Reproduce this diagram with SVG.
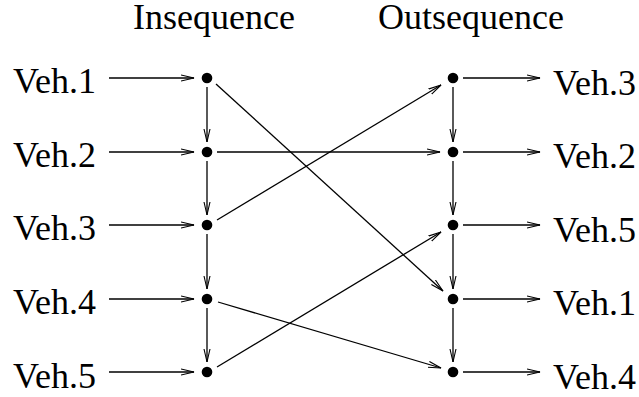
<svg xmlns="http://www.w3.org/2000/svg" width="639" height="397" viewBox="0 0 639 397">
<defs>
<marker id="ah" markerUnits="userSpaceOnUse" markerWidth="16" markerHeight="10" refX="13" refY="4" orient="auto">
<path d="M0,1 L13,4 L0,7" fill="none" stroke="#000" stroke-width="1.1"/>
</marker>
<style>
text{font-family:"Liberation Serif","Times New Roman",serif;font-size:36px;fill:#000}
.c line{stroke:#000;stroke-width:1.3;marker-end:url(#ah)}
.d{fill:#000}
</style>
</defs>
<rect width="639" height="397" fill="#fff"/>
<g id="titles">
<text x="214" y="29" text-anchor="middle">Insequence</text>
<text x="471" y="29" text-anchor="middle">Outsequence</text>
</g>
<g id="in-labels">
<text x="96" y="93" text-anchor="end">Veh.1</text>
<text x="96" y="167" text-anchor="end">Veh.2</text>
<text x="96" y="240" text-anchor="end">Veh.3</text>
<text x="96" y="314" text-anchor="end">Veh.4</text>
<text x="96" y="388" text-anchor="end">Veh.5</text>
</g>
<g id="out-labels">
<text x="553" y="95">Veh.3</text>
<text x="553" y="168">Veh.2</text>
<text x="553" y="242">Veh.5</text>
<text x="553" y="315">Veh.1</text>
<text x="553" y="389">Veh.4</text>
</g>
<g id="in-nodes">
<circle id="L1" class="d" cx="207" cy="78" r="5.3"/>
<circle id="L2" class="d" cx="207" cy="152" r="5.3"/>
<circle id="L3" class="d" cx="207" cy="225" r="5.3"/>
<circle id="L4" class="d" cx="207" cy="299" r="5.3"/>
<circle id="L5" class="d" cx="207" cy="372" r="5.3"/>
</g>
<g id="out-nodes">
<circle id="R1" class="d" cx="453" cy="78" r="5.3"/>
<circle id="R2" class="d" cx="453" cy="152" r="5.3"/>
<circle id="R3" class="d" cx="453" cy="225" r="5.3"/>
<circle id="R4" class="d" cx="453" cy="299" r="5.3"/>
<circle id="R5" class="d" cx="453" cy="372" r="5.3"/>
</g>
<g id="connectors" class="c">
<line x1="109" y1="78" x2="194" y2="78"/>
<line x1="109" y1="152" x2="194" y2="152"/>
<line x1="109" y1="225" x2="194" y2="225"/>
<line x1="109" y1="299" x2="194" y2="299"/>
<line x1="109" y1="372" x2="194" y2="372"/>
<line x1="463" y1="78" x2="540" y2="78"/>
<line x1="463" y1="152" x2="540" y2="152"/>
<line x1="463" y1="225" x2="540" y2="225"/>
<line x1="463" y1="299" x2="540" y2="299"/>
<line x1="463" y1="372" x2="540" y2="372"/>
<line x1="207" y1="87" x2="207" y2="142"/>
<line x1="207" y1="161" x2="207" y2="215"/>
<line x1="207" y1="234" x2="207" y2="289"/>
<line x1="207" y1="308" x2="207" y2="362"/>
<line x1="453" y1="87" x2="453" y2="142"/>
<line x1="453" y1="161" x2="453" y2="215"/>
<line x1="453" y1="234" x2="453" y2="289"/>
<line x1="453" y1="308" x2="453" y2="362"/>
<line x1="216" y1="84" x2="443" y2="291"/>
<line x1="217" y1="152" x2="440" y2="152"/>
<line x1="217" y1="220" x2="441" y2="85"/>
<line x1="218" y1="302" x2="441" y2="368"/>
<line x1="217" y1="367" x2="441" y2="232"/>
</g>
</svg>
